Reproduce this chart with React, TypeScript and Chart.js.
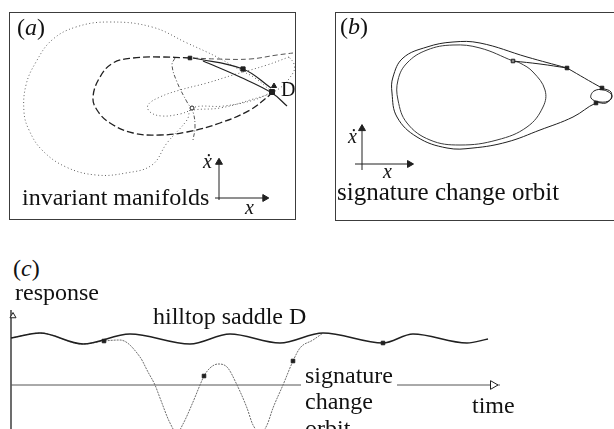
import React, { useEffect, useRef } from "react";
import { Chart, registerables } from "chart.js";

Chart.register(...registerables);

// ---------- (a) invariant manifolds : phase plane (x, x-dot) ----------
const outerManifoldX = [26.3, 24.6, 23.1, 20.8, 17.8, 14.3, 10.0, 6.7, 4.3, 2.7, 1.7, 1.5, 2.0, 3.3, 5.7, 8.7, 11.7, 14.3, 15.8, 17.8, 18.3, 21.5, 24.5, 26.3];
const outerManifoldV = [12.8, 14.2, 15.0, 16.3, 17.7, 19.3, 19.8, 19.3, 18.0, 15.8, 13.5, 10.8, 9.0, 7.0, 5.3, 4.5, 4.7, 5.5, 7.7, 10.0, 11.2, 11.4, 12.0, 12.8];

const tongueX = [28.0, 25.8, 22.4, 19.8, 17.1, 15.1, 13.9, 14.1, 15.3, 17.1, 18.4, 21.1, 24.1, 26.8, 28.4, 28.5, 28.0];
const tongueV = [16.3, 15.5, 14.5, 13.7, 13.0, 12.3, 11.5, 10.8, 10.4, 10.6, 11.0, 11.2, 12.0, 13.0, 14.7, 15.6, 16.3];

const safeLoopX = [18.1, 15.1, 12.4, 10.4, 9.1, 8.4, 8.8, 10.1, 12.4, 15.1, 17.8, 21.1, 24.1, 26.1];
const safeLoopV = [16.2, 16.3, 16.2, 15.7, 14.3, 12.3, 11.0, 9.7, 8.7, 8.5, 8.8, 9.7, 11.0, 12.5];

const upperBranchX = [18.4, 20.8, 24.1, 26.8, 28.4];
const upperBranchV = [16.2, 16.1, 16.1, 16.5, 16.7];

const crossCurveX = [16.6, 16.3, 16.8, 17.8, 18.4, 18.6, 18.4];
const crossCurveV = [16.2, 15.5, 13.8, 11.8, 10.8, 9.3, 8.0];

const orbitA_X = [18.4, 23.4, 26.2];
const orbitA_V = [16.2, 15.1, 13.2];

const stableA_X = [19.4, 23.1, 26.3, 27.8];
const stableA_V = [15.9, 14.3, 12.7, 11.4];

const marksA_X = [18.1, 23.4, 26.3];
const marksA_V = [16.2, 15.1, 12.8];
const marksA_R = [2.5, 3, 3.5];

const saddleA_X = [26.5];
const saddleA_V = [13.4];
const crossingA_X = [18.3];
const crossingA_V = [11.2];

const axesA_X = [21.0, 21.0];
const axesA_V = [2.0, 6.1];
const axesA_HX = [20.6, 25.9];
const axesA_HV = [2.2, 2.2];

// ---------- (b) signature change orbit ----------
const innerOrbitX = [17.8, 14.5, 11.8, 9.2, 7.2, 6.3, 6.3, 7.2, 9.5, 12.5, 16.2, 19.2, 20.8, 21.0, 19.8, 18.5, 17.8];
const innerOrbitV = [15.9, 17.2, 17.5, 17.0, 15.7, 14.0, 12.0, 9.7, 8.0, 7.5, 8.0, 9.3, 11.3, 13.0, 14.8, 15.7, 15.9];

const outerOrbitX = [23.2, 19.2, 14.5, 11.8, 9.2, 6.8, 5.8, 5.7, 6.2, 8.2, 11.2, 13.8, 17.2, 20.5, 23.8, 26.1, 27.1, 27.7, 26.9, 25.9, 25.6, 26.5, 27.5, 27.6, 26.7, 23.2];
const outerOrbitV = [15.2, 16.3, 17.7, 17.8, 17.3, 16.2, 14.3, 12.7, 10.3, 8.3, 7.2, 7.2, 7.8, 9.0, 10.3, 11.7, 11.7, 12.4, 13.0, 12.9, 12.2, 11.8, 12.0, 12.8, 13.2, 15.2];

const escapeX = [17.8, 20.5, 23.2];
const escapeV = [15.9, 15.6, 15.2];

const marksB_X = [23.2, 26.7, 26.1];
const marksB_V = [15.2, 13.2, 11.7];
const startB_X = [17.8];
const startB_V = [15.9];

const axesB_X = [2.7, 2.7];
const axesB_V = [5.0, 9.5];
const axesB_HX = [2.0, 7.8];
const axesB_HV = [5.6, 5.6];

// ---------- (c) response against time ----------
const saddleTime = [0, 2.9, 7.2, 11.9, 17.9, 21.9, 26.9, 31.2, 37.2, 40.2, 45.6, 47.7];
const saddleResp = [4.7, 5.2, 4.1, 5.1, 4.1, 5.1, 4.2, 5.2, 4.2, 5.1, 4.2, 4.6];

const orbitTime = [0, 2.9, 7.2, 9.3, 10.9, 12.9, 13.7, 14.4, 14.9, 15.9, 16.6, 17.2, 18.2, 18.9, 19.3, 19.9, 20.7, 21.6, 22.6, 23.6, 24.2, 25.0, 25.6, 26.2, 27.2, 28.2, 28.9, 30.2, 31.2];
const orbitResp = [4.7, 5.2, 4.1, 4.4, 4.5, 2.8, 1.3, 0, -1.3, -3.8, -4.8, -3.9, -1.7, 0, 0.9, 1.7, 2.1, 1.8, 0, -2.3, -4.0, -4.8, -4.0, -2.3, 0, 2.4, 3.7, 4.5, 5.2];

const markTime = [9.3, 19.3, 28.2, 37.2];
const markResp = [4.4, 0.9, 2.4, 4.2];

const timeAxisT = [0, 48.9];
const timeAxisR = [0, 0];
const respAxisT = [0, 0];
const respAxisR = [-4.6, 7.5];

type Pt = { x: number; y: number };
const zip = (xs: number[], ys: number[]): Pt[] => xs.map((x, i) => ({ x, y: ys[i] }));

const INK = "#202020";
const DOT = "#5e5e5e";

function curve(xs: number[], ys: number[], extra: Record<string, unknown> = {}) {
  return {
    data: zip(xs, ys),
    showLine: true,
    pointRadius: 0,
    borderColor: INK,
    borderWidth: 1,
    tension: 0.4,
    fill: false,
    ...extra,
  };
}

function marks(
  xs: number[],
  ys: number[],
  style: string,
  radius: number | number[],
  extra: Record<string, unknown> = {}
) {
  return {
    data: zip(xs, ys),
    showLine: false,
    pointStyle: style,
    pointRadius: radius,
    pointBackgroundColor: INK,
    pointBorderColor: INK,
    pointBorderWidth: 1,
    ...extra,
  };
}

function arrowAxis(xs: number[], ys: number[], rotation: number, open: boolean) {
  const n = xs.length - 1;
  const tipX = xs[n] - (rotation === 90 ? (xs[n] - xs[0]) * 0.06 : 0);
  const tipY = ys[n] - (rotation === 0 ? (ys[n] - ys[0]) * 0.08 : 0);
  return [
    marks([tipX], [tipY], "triangle", 4, {
      rotation,
      pointBackgroundColor: open ? "#fff" : INK,
    }),
    curve(xs, ys, { tension: 0 }),
  ];
}

const panelA = [
  marks(crossingA_X, crossingA_V, "circle", 2, { pointBackgroundColor: "#fff" }),
  marks(saddleA_X, saddleA_V, "triangle", 3),
  marks(marksA_X, marksA_V, "rect", marksA_R),
  curve(orbitA_X, orbitA_V, { borderWidth: 1.2 }),
  curve(stableA_X, stableA_V, { borderWidth: 1.2 }),
  curve(upperBranchX, upperBranchV, { borderColor: "#555", borderDash: [5, 3] }),
  curve(safeLoopX, safeLoopV, { borderWidth: 1.3, borderDash: [7, 3] }),
  curve(crossCurveX, crossCurveV, { borderColor: "#555", borderDash: [4, 2, 1, 2] }),
  curve(tongueX, tongueV, { borderColor: DOT, borderDash: [1, 2.5] }),
  curve(outerManifoldX, outerManifoldV, { borderColor: DOT, borderDash: [1, 2.5] }),
  ...arrowAxis(axesA_X, axesA_V, 0, false),
  ...arrowAxis(axesA_HX, axesA_HV, 90, false),
];

const panelB = [
  marks(startB_X, startB_V, "rect", 2.5, { pointBackgroundColor: "#888" }),
  marks(marksB_X, marksB_V, "rect", 2.5),
  curve(escapeX, escapeV),
  curve(innerOrbitX, innerOrbitV, { borderColor: "#3a3a3a" }),
  curve(outerOrbitX, outerOrbitV),
  ...arrowAxis(axesB_X, axesB_V, 0, false),
  ...arrowAxis(axesB_HX, axesB_HV, 90, false),
];

const panelC = [
  marks(markTime, markResp, "rect", 2.5),
  curve(saddleTime, saddleResp, { borderWidth: 1.4, cubicInterpolationMode: "monotone" }),
  curve(orbitTime, orbitResp, {
    borderColor: "#6d6d6d",
    borderDash: [2, 1],
    cubicInterpolationMode: "monotone",
  }),
  marks([48.2], [0], "triangle", 5, { rotation: 90, pointBackgroundColor: "#fff" }),
  curve(timeAxisT, timeAxisR, { borderColor: "#555", tension: 0 }),
  marks([0.2], [6.9], "triangle", 3.5, { pointBackgroundColor: "#fff" }),
  curve(respAxisT, respAxisR, { borderWidth: 1.3, tension: 0 }),
];

type PlotProps = {
  left: number;
  top: number;
  width: number;
  height: number;
  datasets: any[];
  xRange: [number, number];
  yRange: [number, number];
};

function Plot({ left, top, width, height, datasets, xRange, yRange }: PlotProps) {
  const ref = useRef<HTMLCanvasElement>(null);
  useEffect(() => {
    if (!ref.current) return;
    const chart = new Chart(ref.current, {
      type: "scatter",
      data: { datasets },
      options: {
        animation: false,
        responsive: false,
        maintainAspectRatio: false,
        devicePixelRatio: 1,
        events: [],
        layout: { padding: 0, autoPadding: false },
        plugins: { legend: { display: false }, tooltip: { enabled: false } },
        scales: {
          x: { type: "linear", min: xRange[0], max: xRange[1], display: false },
          y: { type: "linear", min: yRange[0], max: yRange[1], display: false },
        },
      },
    } as any);
    return () => chart.destroy();
  }, []);
  return (
    <canvas
      ref={ref}
      width={width}
      height={height}
      style={{ position: "absolute", left, top, width, height }}
    />
  );
}

type LabelProps = {
  x: number;
  baseline: number;
  size?: number;
  italic?: boolean;
  bg?: boolean;
  children: React.ReactNode;
};

function Label({ x, baseline, size = 24, italic = false, bg = false, children }: LabelProps) {
  return (
    <span
      style={{
        position: "absolute",
        left: bg ? x - 4 : x,
        top: baseline - 0.8375 * size,
        fontSize: size,
        lineHeight: 1,
        fontStyle: italic ? "italic" : "normal",
        whiteSpace: "nowrap",
        background: bg ? "#fff" : "transparent",
        padding: bg ? "0 4px" : 0,
      }}
    >
      {children}
    </span>
  );
}

export default function App() {
  return (
    <div
      style={{
        position: "fixed",
        left: 0,
        top: 0,
        width: 614,
        height: 429,
        overflow: "hidden",
        background: "#fff",
        color: "#111",
        fontFamily: '"Liberation Serif", "DejaVu Serif", serif',
      }}
    >
      <Plot left={9} top={12} width={287} height={208} datasets={panelA} xRange={[0, 28.7]} yRange={[0, 20.8]} />
      <Plot left={335} top={12} width={279} height={208} datasets={panelB} xRange={[0, 27.9]} yRange={[0, 20.8]} />
      <Plot left={0} top={290} width={614} height={139} datasets={panelC} xRange={[-1.1, 60.3]} yRange={[-4.4, 9.5]} />

      <div style={{ position: "absolute", left: 9, top: 12, width: 287, height: 208, boxSizing: "border-box", border: "1px solid #3c3c3c" }} />
      <div style={{ position: "absolute", left: 335, top: 12, width: 300, height: 209, boxSizing: "border-box", border: "1px solid #3c3c3c" }} />

      <Label x={17} baseline={35}>(<i>a</i>)</Label>
      <Label x={281} baseline={96} size={20}>D</Label>
      <Label x={203} baseline={168} size={20} italic>{"\u1E8B"}</Label>
      <Label x={245} baseline={214} size={20} italic>x</Label>
      <Label x={22} baseline={205}>invariant manifolds</Label>

      <Label x={340} baseline={34}>(<i>b</i>)</Label>
      <Label x={348} baseline={143} size={20} italic>{"\u1E8B"}</Label>
      <Label x={383} baseline={178} size={20} italic>x</Label>
      <Label x={337} baseline={200} size={25}>signature change orbit</Label>

      <Label x={13} baseline={276}>(<i>c</i>)</Label>
      <Label x={15} baseline={300}>response</Label>
      <Label x={153} baseline={324}>hilltop saddle D</Label>
      <Label x={305} baseline={383} bg>signature</Label>
      <Label x={305} baseline={409}>change</Label>
      <Label x={305} baseline={436}>orbit</Label>
      <Label x={472} baseline={413}>time</Label>
    </div>
  );
}
